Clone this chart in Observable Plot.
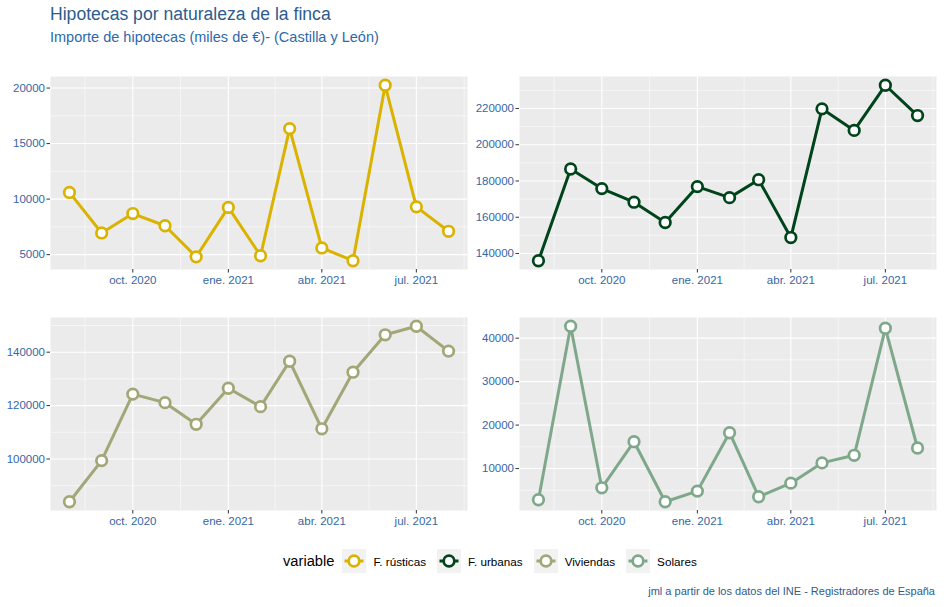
<!DOCTYPE html>
<html>
<head>
<meta charset="utf-8">
<script src="https://cdn.jsdelivr.net/npm/d3@7"></script>
<script src="https://cdn.jsdelivr.net/npm/@observablehq/plot@0.6"></script>
<style>
  html, body { margin: 0; padding: 0; background: #fff; }
  #root { position: relative; width: 944px; height: 607px; font-family: "Liberation Sans", Arial, sans-serif; overflow: hidden; }
  .abs { position: absolute; }
  #title { left: 50px; top: 6px; font-size: 17.6px; line-height: 1; color: #2E5C8C; white-space: nowrap; }
  #subtitle { left: 50px; top: 30px; font-size: 14.5px; line-height: 1; color: #2F69A8; white-space: nowrap; }
  #caption { right: 9px; top: 586px; font-size: 11px; line-height: 1; color: #2F5B8C; white-space: nowrap; }
  #legend { left: 283px; top: 549px; height: 24px; display: flex; align-items: center; white-space: nowrap; }
  #legend .ltitle { font-size: 14.7px; color: #000; margin-right: 8px; }
  #legend .key { width: 24px; height: 24px; background: #F2F2F2; display: block; }
  #legend .lab { font-size: 11.7px; color: #000; margin-left: 7px; margin-right: 11px; }
  g[aria-label$="-axis tick"] { stroke: #333333; }
</style>
</head>
<body>
<div id="root">
  <div id="title" class="abs"></div>
  <div id="subtitle" class="abs"></div>
  <div id="legend" class="abs"></div>
  <div id="caption" class="abs"></div>
</div>
<script>
// ---- data ----
const titleText = "Hipotecas por naturaleza de la finca";
const subtitleText = "Importe de hipotecas (miles de €)- (Castilla y León)";
const captionText = "jml a partir de los datos del INE - Registradores de España";
const legendTitle = "variable";

const months = ["2020-08","2020-09","2020-10","2020-11","2020-12","2021-01","2021-02",
                "2021-03","2021-04","2021-05","2021-06","2021-07","2021-08"];

const seriesNames = ["F. rústicas", "F. urbanas", "Viviendas", "Solares"];
const seriesColors = ["#D9B300", "#00441B", "#A3A677", "#7FA88A"];

const rusticas  = [10600, 6950, 8700, 7600, 4800, 9250, 4900, 16350, 5600, 4450, 20250, 9300, 7100];
const urbanas   = [136000, 186600, 175800, 168300, 157100, 176900, 170800, 180700, 148800, 219800, 207900, 232800, 216100];
const viviendas = [84000, 99400, 124300, 121100, 113000, 126500, 119600, 136600, 111300, 132500, 146500, 149700, 140400];
const solares   = [2830, 42730, 5570, 16180, 2370, 4810, 18240, 3520, 6640, 11300, 13050, 42270, 14730];

const yTicksRusticas  = [5000, 10000, 15000, 20000];
const yTicksUrbanas   = [140000, 160000, 180000, 200000, 220000];
const yTicksViviendas = [100000, 120000, 140000];
const yTicksSolares   = [10000, 20000, 30000, 40000];

const xTickDates  = ["2020-10-01", "2021-01-01", "2021-04-01", "2021-07-01"];
const xTickLabels = ["oct. 2020", "ene. 2021", "abr. 2021", "jul. 2021"];

// ---- chart ----
const font = "'Liberation Sans', Arial, sans-serif";
const axisColor = "#3566A6";
const dates = months.map(m => new Date(m + "-01T00:00:00Z"));
const xTicks = xTickDates.map(d => new Date(d + "T00:00:00Z"));
const labelMap = new Map(xTicks.map((d, i) => [+d, xTickLabels[i]]));

function panel(values, color, yTicks) {
  const data = dates.map((d, i) => ({date: d, value: values[i]}));
  const [y0, y1] = d3.extent(values);
  const yPad = (y1 - y0) * 0.05;
  const yDomain = [y0 - yPad, y1 + yPad];
  const step = yTicks[1] - yTicks[0];
  const yMinor = [yTicks[0] - step / 2, ...yTicks.map(t => t + step / 2)]
    .filter(v => v >= yDomain[0] && v <= yDomain[1]);

  const [x0, x1] = d3.extent(dates);
  const xPad = (x1 - x0) * 0.05;
  const xDomain = [new Date(+x0 - xPad), new Date(+x1 + xPad)];
  const ext = [d3.utcMonth.offset(xTicks[0], -3), ...xTicks, d3.utcMonth.offset(xTicks[xTicks.length - 1], 3)];
  const xMinor = d3.pairs(ext, (a, b) => new Date((+a + +b) / 2))
    .filter(d => d >= xDomain[0] && d <= xDomain[1]);

  return Plot.plot({
    width: 472,
    height: 228,
    marginLeft: 50,
    marginRight: 5,
    marginTop: 10,
    marginBottom: 25,
    style: {fontFamily: font, fontSize: "11.5px", color: axisColor, background: "transparent", overflow: "visible"},
    x: {type: "utc", domain: xDomain},
    y: {domain: yDomain},
    marks: [
      Plot.frame({fill: "#EBEBEB", stroke: "none"}),
      Plot.ruleY(yMinor, {stroke: "#ffffff", strokeWidth: 0.55}),
      Plot.ruleX(xMinor, {stroke: "#ffffff", strokeWidth: 0.55}),
      Plot.ruleY(yTicks, {stroke: "#ffffff", strokeWidth: 1.1}),
      Plot.ruleX(xTicks, {stroke: "#ffffff", strokeWidth: 1.1}),
      Plot.line(data, {x: "date", y: "value", stroke: color, strokeWidth: 3, strokeLinejoin: "round", strokeLinecap: "butt"}),
      Plot.dot(data, {x: "date", y: "value", r: 5.3, fill: "#ffffff", stroke: color, strokeWidth: 2.7}),
      Plot.axisX({ticks: xTicks, tickFormat: d => labelMap.get(+d), tickSize: 3.5, tickPadding: 2.5, label: null, fontSize: 11.5}),
      Plot.axisY({ticks: yTicks, tickFormat: d => String(d), tickSize: 3.5, tickPadding: 2, label: null, fontSize: 11.5})
    ]
  });
}

const root = document.getElementById("root");
document.getElementById("title").textContent = titleText;
document.getElementById("subtitle").textContent = subtitleText;
document.getElementById("caption").textContent = captionText;

const allSeries = [rusticas, urbanas, viviendas, solares];
const allTicks = [yTicksRusticas, yTicksUrbanas, yTicksViviendas, yTicksSolares];
const positions = [[0, 66], [469, 66], [0, 307], [469, 307]];

allSeries.forEach((vals, i) => {
  const svg = panel(vals, seriesColors[i], allTicks[i]);
  const wrap = document.createElement("div");
  wrap.className = "abs";
  wrap.style.left = positions[i][0] + "px";
  wrap.style.top = positions[i][1] + "px";
  wrap.appendChild(svg);
  root.appendChild(wrap);
});

// legend
const legend = document.getElementById("legend");
const lt = document.createElement("span");
lt.className = "ltitle";
lt.textContent = legendTitle;
legend.appendChild(lt);
seriesNames.forEach((name, i) => {
  const ns = "http://www.w3.org/2000/svg";
  const key = document.createElementNS(ns, "svg");
  key.setAttribute("class", "key");
  key.setAttribute("width", 24);
  key.setAttribute("height", 24);
  const bg = document.createElementNS(ns, "rect");
  bg.setAttribute("width", 24); bg.setAttribute("height", 24); bg.setAttribute("fill", "#F2F2F2");
  key.appendChild(bg);
  const ln = document.createElementNS(ns, "line");
  ln.setAttribute("x1", 2.5); ln.setAttribute("x2", 21.5); ln.setAttribute("y1", 12); ln.setAttribute("y2", 12);
  ln.setAttribute("stroke", seriesColors[i]); ln.setAttribute("stroke-width", 3);
  key.appendChild(ln);
  const c = document.createElementNS(ns, "circle");
  c.setAttribute("cx", 12); c.setAttribute("cy", 12); c.setAttribute("r", 5.3);
  c.setAttribute("fill", "#fff"); c.setAttribute("stroke", seriesColors[i]); c.setAttribute("stroke-width", 2.7);
  key.appendChild(c);
  legend.appendChild(key);
  const lab = document.createElement("span");
  lab.className = "lab";
  lab.textContent = name;
  legend.appendChild(lab);
});
</script>
</body>
</html>
